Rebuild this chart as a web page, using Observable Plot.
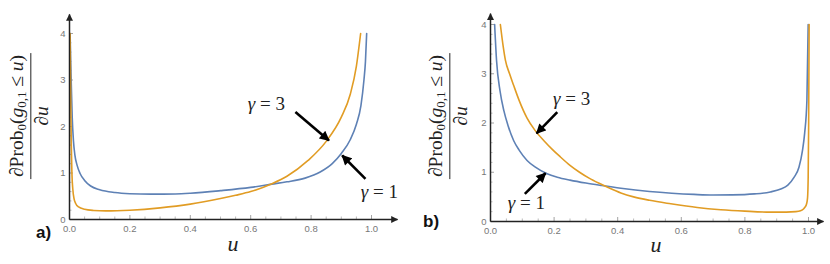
<!DOCTYPE html>
<html><head><meta charset="utf-8">
<script src="https://cdn.jsdelivr.net/npm/d3@7"></script>
<script src="https://cdn.jsdelivr.net/npm/@observablehq/plot@0.6"></script>
<style>
body{margin:0;background:#fff;}
#wrap{position:relative;width:830px;height:264px;overflow:hidden;}
.panel{position:absolute;top:0;}
.ylab{position:absolute;transform:translate(-50%,-50%) rotate(-90deg);font-family:"Liberation Serif","DejaVu Serif",serif;font-size:19.5px;color:#222;white-space:nowrap;}
.frac{display:inline-flex;flex-direction:column;align-items:center;}
.num{border-bottom:1.2px solid #222;padding:0 2px 0px;line-height:1.15;}
.den{line-height:1.15;}
.ylab sub{font-size:13px;vertical-align:-3px;}
.tag{position:absolute;font-family:"Liberation Sans",Arial,sans-serif;font-weight:bold;font-size:17px;color:#111;transform:translateY(-50%);}
.xl{position:absolute;font-family:"Liberation Serif",serif;font-style:italic;font-size:22px;color:#222;transform:translate(-50%,-50%);}
</style></head><body><div id="wrap"></div>
<script>
// ---------- data ----------
// panel a), gamma = 1 (blue)
const aG1u = [0.002, 0.004, 0.006, 0.009, 0.013, 0.018, 0.025, 0.035, 0.05, 0.07, 0.1, 0.15, 0.2, 0.27, 0.35, 0.4, 0.5, 0.6, 0.67, 0.72, 0.78, 0.83, 0.87, 0.9, 0.93, 0.95, 0.965, 0.975, 0.98, 0.984];
const aG1v = [4.0, 3.4, 2.9, 2.2, 1.7, 1.38, 1.17, 0.99, 0.84, 0.72, 0.64, 0.58, 0.555, 0.545, 0.55, 0.565, 0.62, 0.69, 0.76, 0.81, 0.89, 1.02, 1.2, 1.42, 1.72, 2.05, 2.45, 3.0, 3.4, 4.0];
// panel a), gamma = 3 (orange)
const aG3u = [0.002, 0.004, 0.006, 0.008, 0.011, 0.015, 0.02, 0.03, 0.05, 0.08, 0.12, 0.2, 0.3, 0.4, 0.5, 0.55, 0.6, 0.67, 0.72, 0.79, 0.85, 0.9, 0.93, 0.95, 0.964];
const aG3v = [4.0, 2.6, 1.6, 1.0, 0.65, 0.45, 0.35, 0.27, 0.22, 0.195, 0.185, 0.2, 0.25, 0.33, 0.45, 0.52, 0.6, 0.77, 0.93, 1.27, 1.68, 2.2, 2.7, 3.3, 4.0];
// panel b), gamma = 1 (blue)
const bG1u = [0.013, 0.019, 0.03, 0.042, 0.055, 0.073, 0.09, 0.115, 0.14, 0.178, 0.21, 0.25, 0.3, 0.35, 0.41, 0.5, 0.57, 0.64, 0.7, 0.76, 0.83, 0.88, 0.913, 0.935, 0.955, 0.97, 0.981, 0.988, 0.995, 0.999];
const bG1v = [4.0, 3.27, 2.65, 2.25, 1.95, 1.64, 1.45, 1.24, 1.11, 0.97, 0.9, 0.84, 0.78, 0.73, 0.675, 0.61, 0.575, 0.55, 0.537, 0.54, 0.56, 0.6, 0.66, 0.74, 0.9, 1.1, 1.44, 1.8, 2.46, 4.0];
// panel b), gamma = 3 (orange)
const bG3u = [0.031, 0.04, 0.047, 0.06, 0.073, 0.09, 0.115, 0.14, 0.168, 0.195, 0.22, 0.25, 0.28, 0.31, 0.34, 0.37, 0.41, 0.45, 0.5, 0.567, 0.65, 0.724, 0.8, 0.88, 0.93, 0.96, 0.975, 0.985, 0.99, 0.994, 0.997, 0.999, 1.0005, 1.002];
const bG3v = [4.0, 3.55, 3.27, 3.0, 2.76, 2.46, 2.1, 1.85, 1.64, 1.46, 1.31, 1.14, 1.0, 0.88, 0.78, 0.69, 0.58, 0.5, 0.43, 0.36, 0.285, 0.24, 0.21, 0.19, 0.19, 0.2, 0.22, 0.26, 0.3, 0.36, 0.48, 0.9, 2.0, 4.0];
// ticks
const xTicks = [0, 0.2, 0.4, 0.6, 0.8, 1.0];
const xMinor = [0.05, 0.1, 0.15, 0.25, 0.3, 0.35, 0.45, 0.5, 0.55, 0.65, 0.7, 0.75, 0.85, 0.9, 0.95];
const yTicks = [0, 1, 2, 3, 4];
const yMinor = [0.2, 0.4, 0.6, 0.8, 1.2, 1.4, 1.6, 1.8, 2.2, 2.4, 2.6, 2.8, 3.2, 3.4, 3.6, 3.8];
// annotations (data coordinates)
const aLabels = [{u: 0.652, v: 2.49, g: "γ", t: " = 3"}, {u: 1.026, v: 0.60, g: "γ", t: " = 1"}];
const aArrows = [{u1: 0.748, v1: 2.31, u2: 0.859, v2: 1.70}, {u1: 0.980, v1: 0.875, u2: 0.903, v2: 1.376}];
const bLabels = [{u: 0.255, v: 2.48, g: "γ", t: " = 3"}, {u: 0.113, v: 0.37, g: "γ", t: " = 1"}];
const bArrows = [{u1: 0.210, v1: 2.22, u2: 0.145, v2: 1.79}, {u1: 0.108, v1: 0.56, u2: 0.173, v2: 0.98}];

const BLUE = "#5E81B5", ORANGE = "#E19C24";
const zip = (us, vs) => us.map((u, i) => ({u, v: vs[i]}));

function panel(cfg) {
  const svg = Plot.plot({
    width: cfg.width, height: 264,
    marginLeft: cfg.ml, marginRight: cfg.mr, marginTop: cfg.mt, marginBottom: cfg.mb,
    x: {domain: [0, 1], axis: null},
    y: {domain: [0, 4], axis: null},
    style: {background: "transparent", overflow: "visible"},
    marks: [
      Plot.ruleX(xMinor, {x: d => d, y1: 0, y2: 0, insetTop: -2.5, stroke: "#aaa", strokeWidth: 0.8}),
      Plot.ruleX(xTicks, {x: d => d, y1: 0, y2: 0, insetTop: -4, stroke: "#999", strokeWidth: 0.9}),
      Plot.ruleY(yMinor, {y: d => d, x1: 0, x2: 0, insetRight: -2.5, stroke: "#aaa", strokeWidth: 0.8}),
      Plot.ruleY(yTicks, {y: d => d, x1: 0, x2: 0, insetRight: -4, stroke: "#999", strokeWidth: 0.9}),
      Plot.line(zip(cfg.g1u, cfg.g1v), {x: "u", y: "v", stroke: BLUE, strokeWidth: 1.6, curve: "monotone-x"}),
      Plot.line(zip(cfg.g3u, cfg.g3v), {x: "u", y: "v", stroke: ORANGE, strokeWidth: 1.6, curve: "monotone-x"}),
      Plot.link([{x1: 0, y1: 0, x2: cfg.xEnd, y2: 0}, {x1: 0, y1: 0, x2: 0, y2: cfg.yEnd}],
        {x1: "x1", y1: "y1", x2: "x2", y2: "y2", stroke: "#222", strokeWidth: 1.5}),
      Plot.text(xTicks, {x: d => d, y: 0, dy: 9, text: d => d.toFixed(1), fill: "#777", fontSize: 9.5, fontFamily: "Liberation Sans, Arial, sans-serif"}),
      Plot.text(yTicks, {x: 0, y: d => d, dx: -4, textAnchor: "end", text: d => String(d), fill: "#777", fontSize: 9.5, fontFamily: "Liberation Sans, Arial, sans-serif"}),
      Plot.link(cfg.arrows, {x1: "u1", y1: "v1", x2: "u2", y2: "v2", stroke: "#000", strokeWidth: 2.6}),
      Plot.text(cfg.labels, {x: "u", y: "v", text: d => d.g + d.t, fill: "#222", fontSize: 19, fontFamily: "Liberation Serif, serif"})
    ]
  });
  const ns = "http://www.w3.org/2000/svg";
  const defs = document.createElementNS(ns, "defs");
  defs.innerHTML =
    `<marker id="ah-${cfg.id}" viewBox="0 0 10 10" refX="9" refY="5" markerUnits="userSpaceOnUse" markerWidth="11" markerHeight="10" orient="auto"><path d="M0,0L10,5L0,10z" fill="#000"/></marker>` +
    `<marker id="ax-${cfg.id}" viewBox="0 0 10 10" refX="9" refY="5" markerUnits="userSpaceOnUse" markerWidth="8" markerHeight="7" orient="auto"><path d="M0,0L10,5L0,10z" fill="#222"/></marker>`;
  svg.insertBefore(defs, svg.firstChild);
  const links = svg.querySelectorAll('g[aria-label="link"]');
  links[0].querySelectorAll("path").forEach(p => p.setAttribute("marker-end", `url(#ax-${cfg.id})`));
  links[1].querySelectorAll("path").forEach(p => p.setAttribute("marker-end", `url(#ah-${cfg.id})`));
  // italic gamma in the annotation labels
  const texts = svg.querySelectorAll('g[aria-label="text"]');
  const lab = texts[texts.length - 1];
  lab.querySelectorAll("text").forEach((t, i) => {
    const d = cfg.labels[i];
    t.textContent = "";
    const a = document.createElementNS(ns, "tspan"); a.setAttribute("font-style", "italic"); a.textContent = d.g;
    const b = document.createElementNS(ns, "tspan"); b.textContent = d.t;
    t.appendChild(a); t.appendChild(b);
  });
  svg.classList.add("panel");
  svg.style.left = cfg.left + "px";
  return svg;
}

const wrap = document.getElementById("wrap");
wrap.appendChild(panel({id: "a", left: 0, width: 415, ml: 69, mr: 44, mt: 33, mb: 45, xEnd: 1.086, yEnd: 4.41,
  g1u: aG1u, g1v: aG1v, g3u: aG3u, g3v: aG3v, labels: aLabels, arrows: aArrows}));
wrap.appendChild(panel({id: "b", left: 415, width: 415, ml: 75, mr: 22, mt: 24, mb: 43, xEnd: 1.047, yEnd: 4.22,
  g1u: bG1u, g1v: bG1v, g3u: bG3u, g3v: bG3v, labels: bLabels, arrows: bArrows}));

function addHTML(html) { const d = document.createElement("div"); d.innerHTML = html; wrap.appendChild(d.firstChild); }
const yl = `<div class="frac"><div class="num">∂Prob<sub>0</sub>(<i>g</i><sub>0,1</sub> ≤ <i>u</i>)</div><div class="den">∂<i>u</i></div></div>`;
addHTML(`<div class="ylab" style="left:30px;top:116px">${yl}</div>`);
addHTML(`<div class="ylab" style="left:449px;top:116px">${yl}</div>`);
addHTML(`<div class="tag" style="left:36px;top:233px">a)</div>`);
addHTML(`<div class="tag" style="left:423px;top:222px">b)</div>`);
addHTML(`<div class="xl" style="left:233px;top:244px">u</div>`);
addHTML(`<div class="xl" style="left:656px;top:245px">u</div>`);
</script></body></html>
